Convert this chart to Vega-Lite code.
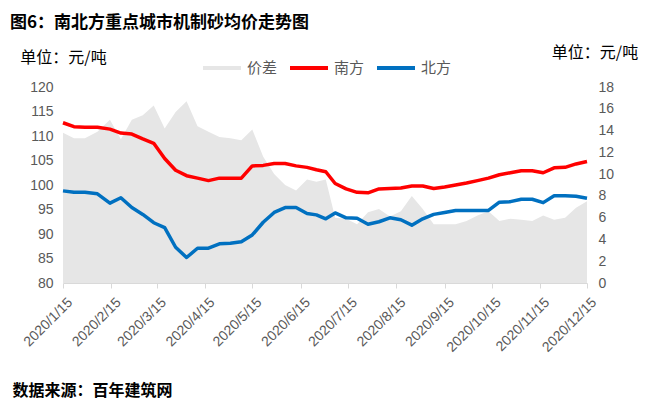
{
  "$schema": "https://vega.github.io/schema/vega-lite/v6.json",
  "width": 524,
  "height": 196,
  "autosize": {"type": "none"},
  "padding": {"left": 63, "top": 87, "right": 74, "bottom": 117},
  "background": "white",
  "title": {
    "text": "图6：南北方重点城市机制砂均价走势图",
    "anchor": "start",
    "frame": "group",
    "dx": -53,
    "offset": 12,
    "font": "Noto Sans CJK SC",
    "fontSize": 17,
    "fontWeight": "bold",
    "color": "#000000"
  },
  "config": {
    "view": {"stroke": null},
    "axis": {"grid": false, "labelFont": "Liberation Sans", "labelFontSize": 14, "labelColor": "#595959"}
  },
  "data": {
    "values": [
      {"date": "2020/01/15", "south": 112.7, "north": 98.8, "diff": 13.8},
      {"date": "2020/01/22", "south": 111.9, "north": 98.5, "diff": 13.3},
      {"date": "2020/01/29", "south": 111.8, "north": 98.5, "diff": 13.3},
      {"date": "2020/02/06", "south": 111.8, "north": 98.2, "diff": 13.9},
      {"date": "2020/02/14", "south": 111.4, "north": 96.3, "diff": 15.0},
      {"date": "2020/02/21", "south": 110.6, "north": 97.4, "diff": 13.2},
      {"date": "2020/02/28", "south": 110.4, "north": 95.4, "diff": 15.0},
      {"date": "2020/03/06", "south": 109.4, "north": 94.0, "diff": 15.4},
      {"date": "2020/03/13", "south": 108.5, "north": 92.3, "diff": 16.3},
      {"date": "2020/03/20", "south": 105.4, "north": 91.3, "diff": 14.2},
      {"date": "2020/03/27", "south": 103.0, "north": 87.3, "diff": 15.7},
      {"date": "2020/04/03", "south": 101.9, "north": 85.2, "diff": 16.7},
      {"date": "2020/04/10", "south": 101.4, "north": 87.1, "diff": 14.4},
      {"date": "2020/04/17", "south": 100.9, "north": 87.1, "diff": 13.9},
      {"date": "2020/04/24", "south": 101.4, "north": 88.0, "diff": 13.4},
      {"date": "2020/05/01", "south": 101.4, "north": 88.1, "diff": 13.3},
      {"date": "2020/05/08", "south": 101.4, "north": 88.4, "diff": 13.1},
      {"date": "2020/05/15", "south": 103.9, "north": 89.8, "diff": 14.1},
      {"date": "2020/05/22", "south": 104.0, "north": 92.4, "diff": 11.6},
      {"date": "2020/05/29", "south": 104.4, "north": 94.4, "diff": 10.0},
      {"date": "2020/06/05", "south": 104.4, "north": 95.4, "diff": 9.0},
      {"date": "2020/06/12", "south": 103.9, "north": 95.4, "diff": 8.5},
      {"date": "2020/06/19", "south": 103.6, "north": 94.2, "diff": 9.5},
      {"date": "2020/06/25", "south": 103.1, "north": 93.9, "diff": 9.3},
      {"date": "2020/07/01", "south": 102.7, "north": 93.1, "diff": 9.5},
      {"date": "2020/07/07", "south": 100.3, "north": 94.3, "diff": 6.0},
      {"date": "2020/07/14", "south": 99.2, "north": 93.3, "diff": 5.9},
      {"date": "2020/07/21", "south": 98.5, "north": 93.2, "diff": 5.4},
      {"date": "2020/07/28", "south": 98.4, "north": 92.0, "diff": 6.5},
      {"date": "2020/08/04", "south": 99.2, "north": 92.5, "diff": 6.8},
      {"date": "2020/08/11", "south": 99.3, "north": 93.3, "diff": 6.1},
      {"date": "2020/08/18", "south": 99.4, "north": 92.9, "diff": 6.6},
      {"date": "2020/08/25", "south": 99.8, "north": 91.8, "diff": 8.0},
      {"date": "2020/09/01", "south": 99.8, "north": 93.1, "diff": 6.8},
      {"date": "2020/09/08", "south": 99.3, "north": 94.0, "diff": 5.4},
      {"date": "2020/09/15", "south": 99.6, "north": 94.4, "diff": 5.4},
      {"date": "2020/09/22", "south": 100.0, "north": 94.8, "diff": 5.4},
      {"date": "2020/09/29", "south": 100.4, "north": 94.8, "diff": 5.7},
      {"date": "2020/10/06", "south": 100.9, "north": 94.8, "diff": 6.2},
      {"date": "2020/10/13", "south": 101.4, "north": 94.8, "diff": 6.6},
      {"date": "2020/10/20", "south": 102.1, "north": 96.5, "diff": 5.7},
      {"date": "2020/10/27", "south": 102.5, "north": 96.6, "diff": 5.9},
      {"date": "2020/11/03", "south": 102.9, "north": 97.1, "diff": 5.8},
      {"date": "2020/11/10", "south": 102.9, "north": 97.1, "diff": 5.7},
      {"date": "2020/11/17", "south": 102.5, "north": 96.4, "diff": 6.2},
      {"date": "2020/11/24", "south": 103.5, "north": 97.8, "diff": 5.8},
      {"date": "2020/12/01", "south": 103.6, "north": 97.8, "diff": 6.0},
      {"date": "2020/12/08", "south": 104.3, "north": 97.7, "diff": 6.9},
      {"date": "2020/12/15", "south": 104.8, "north": 97.3, "diff": 7.5}
    ]
  },
  "encoding": {
    "x": {
      "field": "date",
      "type": "temporal",
      "scale": {
        "domain": [{"year": 2020, "month": 1, "date": 15}, {"year": 2020, "month": 12, "date": 15}],
        "nice": false
      },
      "axis": {
        "values": [
          {"year": 2020, "month": 1, "date": 15}, {"year": 2020, "month": 2, "date": 15},
          {"year": 2020, "month": 3, "date": 15}, {"year": 2020, "month": 4, "date": 15},
          {"year": 2020, "month": 5, "date": 15}, {"year": 2020, "month": 6, "date": 15},
          {"year": 2020, "month": 7, "date": 15}, {"year": 2020, "month": 8, "date": 15},
          {"year": 2020, "month": 9, "date": 15}, {"year": 2020, "month": 10, "date": 15},
          {"year": 2020, "month": 11, "date": 15}, {"year": 2020, "month": 12, "date": 15}
        ],
        "format": "%Y/%-m/%-d",
        "labelAngle": -45,
        "labelAlign": "right",
        "labelBaseline": "top",
        "labelPadding": 7,
        "labelOffset": 2,
        "labelOverlap": false,
        "labelFlush": false,
        "labelBound": false,
        "tickSize": 5,
        "tickColor": "#d9d9d9",
        "domainColor": "#d9d9d9",
        "title": "数据来源：百年建筑网",
        "titleX": -51,
        "titleY": 107,
        "titleAlign": "left",
        "titleBaseline": "middle",
        "titleFont": "Noto Sans CJK SC",
        "titleFontSize": 16,
        "titleFontWeight": "bold",
        "titleColor": "#000000"
      }
    }
  },
  "layer": [
    {
      "mark": {"type": "area", "opacity": 1},
      "encoding": {
        "y": {
          "field": "diff",
          "type": "quantitative",
          "scale": {"domain": [0, 18], "nice": false, "zero": true},
          "axis": {
            "orient": "right",
            "values": [0, 2, 4, 6, 8, 10, 12, 14, 16, 18],
            "ticks": false,
            "domain": false,
            "labelPadding": 11,
            "title": "单位：元/吨",
            "titleAngle": 0,
            "titleX": 7.5,
            "titleY": -35,
            "titleAlign": "center",
            "titleBaseline": "middle",
            "titleFont": "Noto Sans CJK SC",
            "titleFontSize": 16,
            "titleFontWeight": "normal",
            "titleColor": "#000000"
          }
        },
        "color": {
          "datum": "价差",
          "scale": {"domain": ["价差", "南方", "北方"], "range": ["#e6e6e6", "#ff0000", "#0070c0"]},
          "legend": {
            "orient": "none",
            "legendX": 138,
            "legendY": -40,
            "direction": "horizontal",
            "title": null,
            "labelFont": "Noto Sans CJK SC",
            "labelFontSize": 15,
            "labelColor": "#595959",
            "labelOffset": 4,
            "columnPadding": 4,
            "symbolSize": 1444,
            "symbolType": "stroke",
            "symbolStrokeWidth": 4,
            "encode": {
              "symbols": {
                "update": {
                  "shape": [{"test": "datum.value === '价差'", "value": "M-0.92,-0.21H0.92V0.21H-0.92Z"}, {"value": "stroke"}],
                  "fill": [{"test": "datum.value === '价差'", "value": "#e6e6e6"}, {"value": "transparent"}],
                  "stroke": [{"test": "datum.value === '价差'", "value": "transparent"}, {"scale": "color", "field": "value"}],
                  "strokeWidth": {"value": 4},
                  "opacity": {"value": 1}
                }
              }
            }
          }
        }
      }
    },
    {
      "mark": {"type": "line", "strokeWidth": 3.5, "strokeJoin": "round"},
      "encoding": {
        "y": {
          "field": "south",
          "type": "quantitative",
          "scale": {"domain": [80, 120], "nice": false, "zero": false},
          "axis": {
            "orient": "left",
            "values": [80, 85, 90, 95, 100, 105, 110, 115, 120],
            "ticks": false,
            "domain": false,
            "labelPadding": 10,
            "title": "单位：元/吨",
            "titleAngle": 0,
            "titleX": 0,
            "titleY": -29.5,
            "titleAlign": "center",
            "titleBaseline": "middle",
            "titleFont": "Noto Sans CJK SC",
            "titleFontSize": 16,
            "titleFontWeight": "normal",
            "titleColor": "#000000"
          }
        },
        "color": {"datum": "南方"}
      }
    },
    {
      "mark": {"type": "line", "strokeWidth": 3.5, "strokeJoin": "round"},
      "encoding": {
        "y": {
          "field": "north",
          "type": "quantitative",
          "scale": {"domain": [80, 120], "nice": false, "zero": false},
          "axis": null
        },
        "color": {"datum": "北方"}
      }
    }
  ],
  "resolve": {"scale": {"y": "independent"}}
}
